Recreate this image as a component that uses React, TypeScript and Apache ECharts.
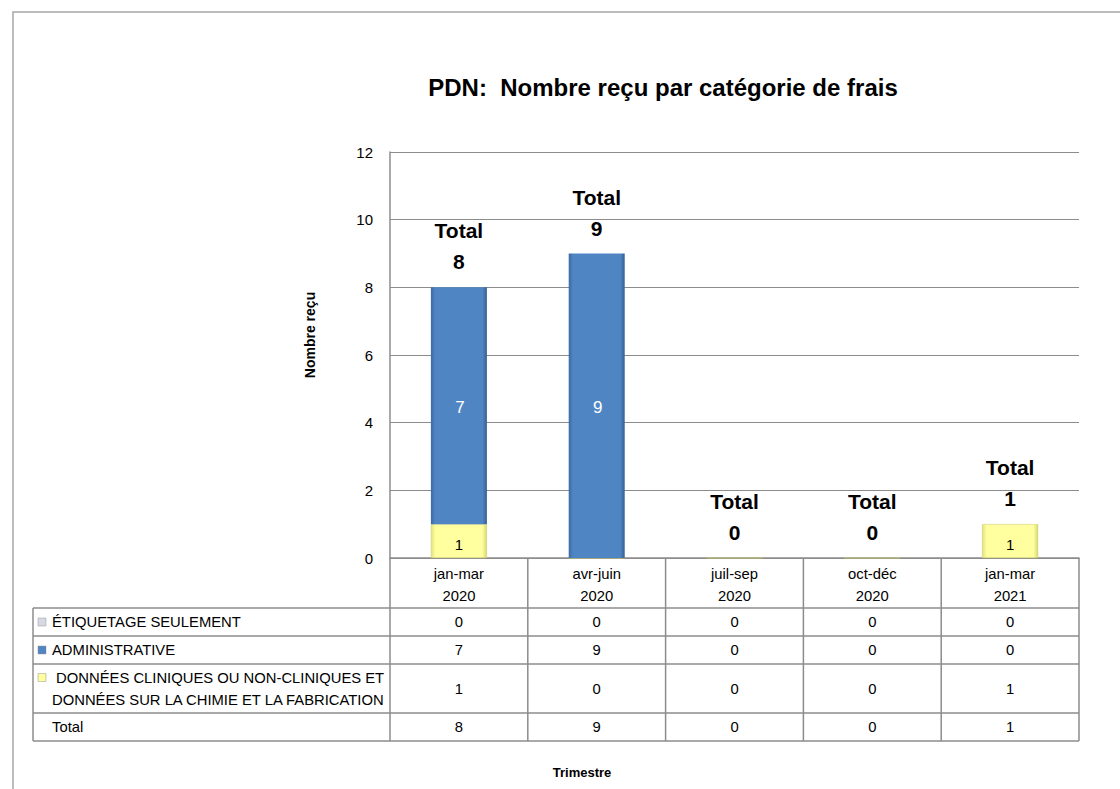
import React, { useEffect, useRef } from "react";
import * as echarts from "echarts";

const categories = ["jan-mar\n2020", "avr-juin\n2020", "juil-sep\n2020", "oct-déc\n2020", "jan-mar\n2021"];
const seriesNames = [
  "ÉTIQUETAGE SEULEMENT",
  "ADMINISTRATIVE",
  " DONNÉES CLINIQUES OU NON-CLINIQUES ET\nDONNÉES SUR LA CHIMIE ET LA FABRICATION",
];
const etiquetage = [0, 0, 0, 0, 0];
const administrative = [7, 9, 0, 0, 0];
const donnees = [1, 0, 0, 0, 1];
const totals = [8, 9, 0, 0, 1];
const yTicks = [0, 2, 4, 6, 8, 10, 12];

const FONT = "Liberation Sans, Arial, sans-serif";

export default function App() {
  const ref = useRef<HTMLDivElement>(null);
  useEffect(() => {
    document.body.style.margin = "0";
    const chart = echarts.init(ref.current!, null, { renderer: "svg" });

    const gl = 390, gr = 1079, gt = 152, gb = 558;
    const tl = 33;
    const rowY = [608, 636, 664, 713, 741];
    const n = categories.length;
    const colW = (gr - gl) / n;
    const lineColor = "#8c8c8c";

    const blue = new echarts.graphic.LinearGradient(0, 0, 1, 0, [
      { offset: 0, color: "#3b6aa3" },
      { offset: 0.08, color: "#5085c4" },
      { offset: 0.92, color: "#5085c4" },
      { offset: 1, color: "#35608f" },
    ]);
    const yellow = new echarts.graphic.LinearGradient(0, 0, 1, 0, [
      { offset: 0, color: "#e3e37a" },
      { offset: 0.08, color: "#ffffa0" },
      { offset: 0.92, color: "#ffffa0" },
      { offset: 1, color: "#d9d96e" },
    ]);
    const grayKey = "#d6d9e4";
    const tableFont = `14.8px ${FONT}`;

    const graphics: any[] = [];
    graphics.push({
      type: "rect",
      shape: { x: 13, y: 12, width: 1130, height: 800 },
      style: { fill: "none", stroke: "#a6a6a6", lineWidth: 1.5 },
      silent: true,
    });
    rowY.forEach((y) => {
      graphics.push({
        type: "line",
        shape: { x1: tl, y1: y, x2: gr, y2: y },
        style: { stroke: lineColor, lineWidth: 1.5 },
      });
    });
    for (let i = 0; i <= n; i++) {
      const x = gl + i * colW;
      graphics.push({
        type: "line",
        shape: { x1: x, y1: gb, x2: x, y2: rowY[rowY.length - 1] },
        style: { stroke: lineColor, lineWidth: 1.5 },
      });
    }
    graphics.push({
      type: "line",
      shape: { x1: tl, y1: rowY[0], x2: tl, y2: rowY[rowY.length - 1] },
      style: { stroke: lineColor, lineWidth: 1.5 },
    });

    const rows = [
      { name: seriesNames[0], values: etiquetage, key: grayKey },
      { name: seriesNames[1], values: administrative, key: blue },
      { name: seriesNames[2], values: donnees, key: yellow },
      { name: "Total", values: totals, key: null },
    ];
    rows.forEach((r, ri) => {
      const y0 = rowY[ri], y1 = rowY[ri + 1];
      const cy = (y0 + y1) / 2;
      if (r.key) {
        graphics.push({
          type: "rect",
          shape: { x: 38, y: ri === 2 ? cy - 15 : cy - 4, width: 8, height: 8 },
          style: { fill: r.key, stroke: "#9a9a9a", lineWidth: 0.5 },
        });
      }
      graphics.push({
        type: "text",
        x: 52,
        y: cy,
        style: {
          text: r.name,
          font: tableFont,
          fill: "#000",
          verticalAlign: "middle",
          lineHeight: 22,
        },
      });
      r.values.forEach((v, ci) => {
        graphics.push({
          type: "text",
          x: gl + (ci + 0.5) * colW,
          y: cy,
          style: {
            text: String(v),
            font: tableFont,
            fill: "#000",
            align: "center",
            verticalAlign: "middle",
          },
        });
      });
    });

    graphics.push({
      type: "text",
      x: 582,
      y: 772,
      style: {
        text: "Trimestre",
        font: `bold 13px ${FONT}`,
        fill: "#000",
        align: "center",
        verticalAlign: "middle",
      },
    });
    graphics.push({
      type: "text",
      x: 310,
      y: 335,
      rotation: Math.PI / 2,
      style: {
        text: "Nombre reçu",
        font: `bold 14px ${FONT}`,
        fill: "#000",
        align: "center",
        verticalAlign: "middle",
      },
    });

    const option: any = {
      animation: false,
      backgroundColor: "#fff",
      title: {
        text: "PDN:  Nombre reçu par catégorie de frais",
        left: 658,
        top: 70,
        textAlign: "center",
        textStyle: { fontFamily: FONT, fontSize: 24, fontWeight: "bold", color: "#000" },
      },
      grid: { left: gl, top: gt, width: gr - gl, height: gb - gt, containLabel: false },
      xAxis: {
        type: "category",
        data: categories,
        axisLine: { show: true, lineStyle: { color: lineColor, width: 1.5 } },
        axisTick: { show: false },
        axisLabel: {
          color: "#000",
          fontFamily: FONT,
          fontSize: 14.8,
          lineHeight: 22,
          margin: 5,
        },
      },
      yAxis: {
        type: "value",
        min: yTicks[0],
        max: yTicks[yTicks.length - 1],
        interval: 2,
        axisLine: { show: true, lineStyle: { color: lineColor, width: 1.5 } },
        axisTick: { show: false },
        axisLabel: { color: "#000", fontFamily: FONT, fontSize: 15, margin: 17 },
        splitLine: { show: true, lineStyle: { color: "#8c8c8c", width: 1 } },
      },
      series: [
        {
          name: "DONNÉES",
          type: "bar",
          stack: "a",
          barWidth: 56,
          data: donnees,
          itemStyle: { color: yellow, borderColor: "#c8c86a", borderWidth: 0.5 },
          label: {
            show: true,
            position: "inside",
            formatter: (p: any) => (p.value ? String(p.value) : ""),
            color: "#000",
            fontFamily: FONT,
            fontSize: 15,
            offset: [0, 3],
          },
        },
        {
          name: "ADMINISTRATIVE",
          type: "bar",
          stack: "a",
          barWidth: 56,
          data: administrative,
          itemStyle: { color: blue },
          label: {
            show: true,
            position: "inside",
            formatter: (p: any) => (p.value ? String(p.value) : ""),
            color: "#fff",
            fontFamily: FONT,
            fontSize: 17,
            offset: [1, 2],
          },
        },
        {
          name: "ÉTIQUETAGE SEULEMENT",
          type: "bar",
          stack: "a",
          barWidth: 56,
          data: etiquetage,
          itemStyle: { color: grayKey },
        },
        {
          name: "Total",
          type: "bar",
          barWidth: 56,
          barGap: "-100%",
          data: totals,
          itemStyle: { color: "rgba(0,0,0,0)" },
          label: {
            show: true,
            position: "top",
            distance: 10,
            formatter: (p: any) => `Total\n${p.value}`,
            color: "#000",
            fontFamily: FONT,
            fontSize: 21,
            fontWeight: "bold",
            lineHeight: 31,
          },
          z: 5,
        },
      ],
      graphic: graphics,
    };
    chart.setOption(option);
    return () => chart.dispose();
  }, []);
  return <div ref={ref} style={{ width: 1120, height: 789 }} />;
}
